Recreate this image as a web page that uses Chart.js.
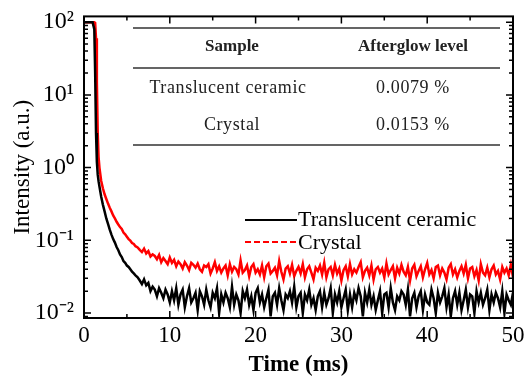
<!DOCTYPE html>
<html><head><meta charset="utf-8">
<script src="https://cdn.jsdelivr.net/npm/chart.js@4/dist/chart.umd.min.js"></script>
<style>html,body{margin:0;padding:0;background:#fff}#wrap{width:526px;height:381px;position:relative}</style>
</head><body><div id="wrap"><canvas id="c" width="526" height="381"></canvas></div>
<script>
const time = [0,0.5,1.0,1.2,1.3,1.4,1.5,1.6,1.7,1.8,2.0,2.2,2.4,2.6,2.8,3.0,3.2,3.4,3.6,3.8,4.0,4.2,4.4,4.6,4.8,5.0,5.2,5.4,5.6,5.8,6.0,
6.25,6.5,6.75,7,7.25,7.5,7.75,8,8.25,8.5,8.75,9,9.25,9.5,9.75,10,
10.25,10.5,10.75,11,11.25,11.5,11.75,12,12.25,12.5,12.75,13,13.25,13.5,13.75,14,14.25,14.5,14.75,15,
15.25,15.5,15.75,16,16.25,16.5,16.75,17,17.25,17.5,17.75,18,18.25,18.5,18.75,19,19.25,19.5,19.75,20,
20.25,20.5,20.75,21,21.25,21.5,21.75,22,22.25,22.5,22.75,23,23.25,23.5,23.75,24,24.25,24.5,24.75,25,
25.25,25.5,25.75,26,26.25,26.5,26.75,27,27.25,27.5,27.75,28,28.25,28.5,28.75,29,29.25,29.5,29.75,30,
30.25,30.5,30.75,31,31.25,31.5,31.75,32,32.25,32.5,32.75,33,33.25,33.5,33.75,34,34.25,34.5,34.75,35,
35.25,35.5,35.75,36,36.25,36.5,36.75,37,37.25,37.5,37.75,38,38.25,38.5,38.75,39,39.25,39.5,39.75,40,
40.25,40.5,40.75,41,41.25,41.5,41.75,42,42.25,42.5,42.75,43,43.25,43.5,43.75,44,44.25,44.5,44.75,45,
45.25,45.5,45.75,46,46.25,46.5,46.75,47,47.25,47.5,47.75,48,48.25,48.5,48.75,49,49.25,49.5,49.75,50];

const ceramic = [100,100,100,80,20,3.0,1.2,0.8,0.65,0.55,0.40,0.31,0.25,0.2,0.168,0.14,0.12,0.104,0.093,0.081,0.073,0.064,0.059,0.052,0.049,0.045,0.043,0.040,0.037,0.035,0.033,
0.031,0.028,0.025,0.029, 0.024,0.026,0.020,0.023, 0.021,0.017,0.022,0.019, 0.016,0.021,0.018,0.014,
0.020,0.015,0.022,0.013, 0.018,0.021,0.012,0.017, 0.022,0.014,0.016,0.019, 0.011,0.020,0.017,0.013, 0.021,0.015,0.012,0.019,
0.016,0.022,0.010,0.018, 0.014,0.019,0.016,0.012, 0.023,0.013,0.018,0.015, 0.010,0.020,0.016,0.021, 0.013,0.017,0.011,0.019,
0.022,0.014,0.018,0.012, 0.016,0.021,0.009,0.017, 0.019,0.013,0.022,0.015, 0.011,0.018,0.016,0.020, 0.014,0.023,0.012,0.017,
0.019,0.010,0.018,0.015, 0.021,0.013,0.016,0.011, 0.017,0.020,0.012,0.019, 0.013,0.016,0.022,0.010, 0.018,0.014,0.020,0.012,
0.016,0.021,0.011,0.018, 0.012,0.019,0.015,0.022, 0.017,0.009,0.019,0.014, 0.021,0.013,0.017,0.011, 0.015,0.020,0.010,0.018,
0.019,0.012,0.022,0.014, 0.011,0.017,0.015,0.020, 0.018,0.013,0.021,0.009, 0.016,0.019,0.012,0.017, 0.020,0.011,0.018,0.014,
0.013,0.021,0.016,0.010, 0.019,0.014,0.017,0.022, 0.012,0.018,0.009,0.016, 0.020,0.013,0.019,0.011, 0.015,0.021,0.012,0.018,
0.017,0.010,0.020,0.014, 0.019,0.013,0.016,0.021, 0.011,0.018,0.014,0.019, 0.016,0.012,0.020,0.010, 0.018,0.015,0.013,0.019];

const crystal = [100,100,100,100,98,60,15,3.0,1.4,1.0,0.66,0.52,0.43,0.37,0.32,0.28,0.25,0.22,0.20,0.18,0.165,0.152,0.143,0.128,0.121,0.112,0.104,0.099,0.092,0.089,0.083,
0.080,0.074,0.069,0.077, 0.066,0.071,0.060,0.064, 0.061,0.055,0.063,0.050, 0.057,0.052,0.047,0.058,
0.049,0.054,0.044,0.051, 0.047,0.041,0.050,0.045, 0.039,0.049,0.046,0.042, 0.048,0.040,0.037,0.045, 0.043,0.047,0.035,0.041,
0.050,0.038,0.044,0.036, 0.041,0.045,0.033,0.047, 0.037,0.043,0.040,0.034, 0.053,0.036,0.039,0.045, 0.032,0.043,0.047,0.036,
0.040,0.034,0.045,0.031, 0.044,0.048,0.035,0.038, 0.042,0.033,0.052,0.037, 0.029,0.041,0.044,0.035, 0.046,0.032,0.038,0.043,
0.035,0.047,0.031,0.040, 0.044,0.036,0.029,0.042, 0.038,0.045,0.034,0.049, 0.031,0.040,0.043,0.033, 0.046,0.035,0.041,0.028,
0.039,0.044,0.032,0.047, 0.034,0.040,0.036,0.043, 0.050,0.031,0.038,0.042, 0.033,0.045,0.029,0.040, 0.043,0.036,0.041,0.031,
0.048,0.034,0.039,0.044, 0.030,0.042,0.035,0.046, 0.037,0.033,0.043,0.028, 0.041,0.046,0.032,0.038, 0.044,0.031,0.040,0.049,
0.034,0.039,0.030,0.043, 0.045,0.033,0.041,0.036, 0.029,0.042,0.047,0.034, 0.040,0.031,0.038,0.044, 0.035,0.046,0.030,0.041,
0.043,0.032,0.039,0.028, 0.047,0.036,0.033,0.042, 0.031,0.040,0.045,0.034, 0.038,0.029,0.043,0.036, 0.041,0.033,0.046,0.031];

const xTickValues = [0,10,20,30,40,50];
const yTickValues = [0.01,0.1,1,10,100];
const yTickLabels = ['10\u207B\u00B2','10\u207B\u00B9','10\u2070','10\u00B9','10\u00B2'];
const seriesNames = ['Translucent ceramic','Crystal'];
const tableHeader = ['Sample','Afterglow level'];
const tableRows = [['Translucent ceramic','0.0079 %'],['Crystal','0.0153 %']];

const SERIF = "'Liberation Serif','Times New Roman',serif";

const framePlugin = {
  id:'frame',
  afterDatasetsDraw(chart){
    const {ctx, chartArea:a, scales:{x,y}} = chart;
    ctx.save();
    ctx.strokeStyle='#000';
    ctx.lineWidth=2;
    ctx.strokeRect(a.left, a.top, a.right-a.left, a.bottom-a.top);
    ctx.lineWidth=1.5;
    ctx.beginPath();
    for(let v=0; v<=50; v+=5){
      const px = x.getPixelForValue(v);
      const L = (v%10===0)?7:4;
      ctx.moveTo(px,a.bottom); ctx.lineTo(px,a.bottom-L);
      ctx.moveTo(px,a.top); ctx.lineTo(px,a.top+L);
    }
    for(let e=-3;e<=2;e++){
      for(let m=1;m<=9;m++){
        const v=m*Math.pow(10,e);
        if(v<y.min||v>y.max) continue;
        const py=y.getPixelForValue(v);
        const L=(m===1)?7:4;
        ctx.moveTo(a.left,py); ctx.lineTo(a.left+L,py);
        ctx.moveTo(a.right,py); ctx.lineTo(a.right-L,py);
      }
    }
    ctx.stroke();
    ctx.restore();
  },
  afterDraw(chart){
    const {ctx} = chart;
    ctx.save();
    ctx.strokeStyle='#333'; ctx.lineWidth=1.5;
    ctx.beginPath();
    [28,68,145].forEach(yy=>{ctx.moveTo(133,yy);ctx.lineTo(500,yy);});
    ctx.stroke();
    ctx.fillStyle='#222'; ctx.textAlign='center'; ctx.textBaseline='middle';
    ctx.font="bold 17px "+SERIF;
    ctx.fillText(tableHeader[0],232,47);
    ctx.fillText(tableHeader[1],413,47);
    ctx.font="18px "+SERIF;
    try{ctx.letterSpacing='0.6px';}catch(e){}
    ctx.fillText(tableRows[0][0],228,88);
    ctx.fillText(tableRows[0][1],413,88);
    ctx.fillText(tableRows[1][0],232,125);
    ctx.fillText(tableRows[1][1],413,125);
    try{ctx.letterSpacing='0px';}catch(e){}
    ctx.lineWidth=2;
    ctx.strokeStyle='#000';
    ctx.beginPath(); ctx.moveTo(245,220); ctx.lineTo(297,220); ctx.stroke();
    ctx.strokeStyle='#ff0000';
    ctx.setLineDash([6,3]);
    ctx.beginPath(); ctx.moveTo(245,242); ctx.lineTo(297,242); ctx.stroke();
    ctx.setLineDash([]);
    ctx.fillStyle='#000'; ctx.textAlign='left';
    ctx.font="22px "+SERIF;
    ctx.fillText(seriesNames[0],298,220);
    ctx.fillText(seriesNames[1],298,243);
    ctx.restore();
  }
};

new Chart(document.getElementById('c'),{
  type:'line',
  data:{
    datasets:[
      {label:seriesNames[0], data:time.map((t,i)=>({x:t,y:ceramic[i]})), borderColor:'#000', borderWidth:2.5, pointRadius:0, tension:0, order:1},
      {label:seriesNames[1], data:time.map((t,i)=>({x:t,y:crystal[i]})), borderColor:'#ff0000', borderWidth:2.5, pointRadius:0, tension:0, order:2}
    ]
  },
  options:{
    responsive:false, animation:false, devicePixelRatio:1,
    layout:{padding:{top:12,right:13,left:0,bottom:0}},
    plugins:{legend:{display:false}, tooltip:{enabled:false}},
    scales:{
      x:{type:'linear', min:0, max:50,
        afterBuildTicks:s=>{s.ticks=xTickValues.map(v=>({value:v}));},
        ticks:{color:'#000', font:{family:SERIF,size:23}, padding:-4, autoSkip:false, maxRotation:0},
        grid:{display:false}, border:{display:false},
        title:{display:true, text:'Time (ms)', color:'#000', font:{family:SERIF,size:23,weight:'bold'}, padding:{top:0,bottom:2}},
        afterFit:s=>{s.height=63;}
      },
      y:{type:'logarithmic', min:0.00855, max:120,
        afterBuildTicks:s=>{s.ticks=yTickValues.map(v=>({value:v}));},
        ticks:{color:'#000', font:{family:SERIF,size:24}, padding:2, autoSkip:false,
          callback:(v)=>{const i=yTickValues.findIndex(t=>Math.abs(t-v)/t<1e-6);return i>=0?yTickLabels[i]:'';}},
        grid:{display:false}, border:{display:false},
        title:{display:true, text:'Intensity (a.u.)', color:'#000', font:{family:SERIF,size:23}, padding:{top:9,bottom:0}},
        afterFit:s=>{s.width=84;}
      }
    }
  },
  plugins:[framePlugin]
});
</script></body></html>
